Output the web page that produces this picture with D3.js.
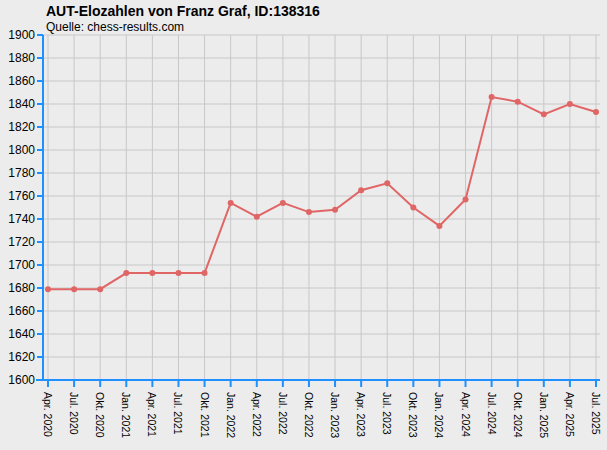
<!DOCTYPE html>
<html><head><meta charset="utf-8">
<script src="https://cdn.jsdelivr.net/npm/d3@7"></script>
<style>body{margin:0;background:#ececec}svg{display:block}</style>
</head><body>
<svg id="chart" width="607" height="450"></svg>
<script>
const labels = ["Apr. 2020","Jul. 2020","Okt. 2020","Jan. 2021","Apr. 2021","Jul. 2021","Okt. 2021","Jan. 2022","Apr. 2022","Jul. 2022","Okt. 2022","Jan. 2023","Apr. 2023","Jul. 2023","Okt. 2023","Jan. 2024","Apr. 2024","Jul. 2024","Okt. 2024","Jan. 2025","Apr. 2025","Jul. 2025"];
const elo = [1679,1679,1679,1693,1693,1693,1693,1754,1742,1754,1746,1748,1765,1771,1750,1734,1757,1846,1842,1831,1840,1833];
const yTicks = d3.range(1600, 1901, 20);

const svg = d3.select("#chart");
const blue = "#1e90ff";
const x = d3.scalePoint().domain(labels).range([48, 596]);
const y = d3.scaleLinear().domain([1600, 1900]).range([380, 35]);

// grid
svg.append("g").selectAll("line").data(yTicks).join("line")
  .attr("x1", 43).attr("x2", 600).attr("y1", d => y(d)).attr("y2", d => y(d))
  .attr("stroke", "#c8c8c8");
svg.append("g").selectAll("line").data(labels).join("line")
  .attr("x1", d => x(d)).attr("x2", d => x(d)).attr("y1", 35).attr("y2", 380)
  .attr("stroke", "#c8c8c8");

// axes
svg.append("line").attr("x1", 43).attr("x2", 43).attr("y1", 35).attr("y2", 380)
  .attr("stroke", blue).attr("stroke-width", 2);
svg.append("line").attr("x1", 36).attr("x2", 600).attr("y1", 380).attr("y2", 380)
  .attr("stroke", blue).attr("stroke-width", 2);
svg.append("g").selectAll("line").data(yTicks).join("line")
  .attr("x1", 37).attr("x2", 43).attr("y1", d => y(d)).attr("y2", d => y(d))
  .attr("stroke", blue).attr("stroke-width", 2);
svg.append("g").selectAll("text").data(yTicks).join("text")
  .attr("x", 35).attr("y", d => y(d) + 4).attr("text-anchor", "end")
  .attr("font-family", "Liberation Sans, Arial, sans-serif").attr("font-size", 12)
  .text(d => d);
svg.append("g").selectAll("line").data(labels).join("line")
  .attr("x1", d => x(d)).attr("x2", d => x(d)).attr("y1", 380).attr("y2", 387)
  .attr("stroke", blue).attr("stroke-width", 2);
svg.append("g").selectAll("text").data(labels).join("text")
  .attr("transform", d => `translate(${x(d) - 4},392) rotate(90)`)
  .attr("font-family", "Liberation Sans, Arial, sans-serif").attr("font-size", 10.5)
  .text(d => d);

// line
const data = labels.map((l, i) => ({l, v: elo[i]}));
svg.append("path").datum(data)
  .attr("fill", "none").attr("stroke", "#e06666").attr("stroke-width", 2)
  .attr("d", d3.line().x(d => x(d.l)).y(d => y(d.v)));
svg.append("g").selectAll("circle").data(data).join("circle")
  .attr("cx", d => x(d.l)).attr("cy", d => y(d.v)).attr("r", 3)
  .attr("fill", "#e06666");

// titles
svg.append("text").attr("x", 46).attr("y", 16)
  .attr("font-family", "Liberation Sans, Arial, sans-serif").attr("font-size", 14).attr("font-weight", "bold")
  .text("AUT-Elozahlen von Franz Graf, ID:138316");
svg.append("text").attr("x", 46).attr("y", 31)
  .attr("font-family", "Liberation Sans, Arial, sans-serif").attr("font-size", 12)
  .text("Quelle: chess-results.com");
</script>
</body></html>
